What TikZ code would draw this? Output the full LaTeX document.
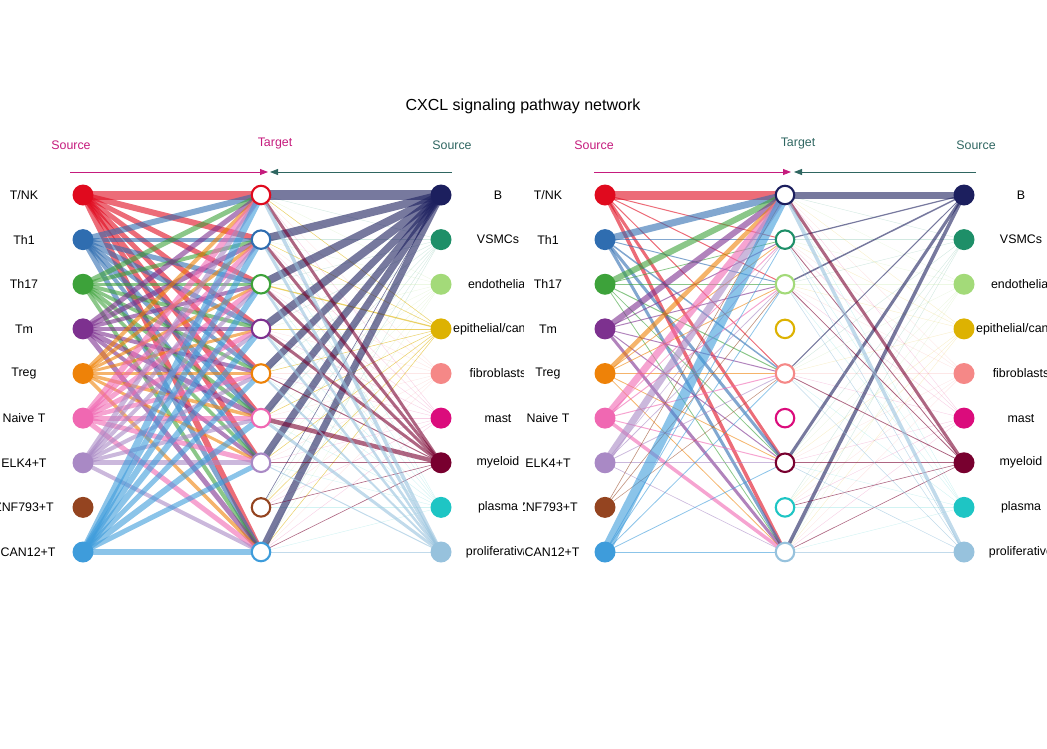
\documentclass[tikz,border=0pt]{standalone}
\usepackage{fontspec}
\setmainfont{Liberation Sans}
\usetikzlibrary{arrows.meta}
\definecolor{c1}{HTML}{E00A1E}
\definecolor{c2}{HTML}{2F6DB0}
\definecolor{c3}{HTML}{3DA23A}
\definecolor{c4}{HTML}{7D318F}
\definecolor{c5}{HTML}{EE8208}
\definecolor{c6}{HTML}{F068B2}
\definecolor{c7}{HTML}{A989C5}
\definecolor{c8}{HTML}{944420}
\definecolor{c9}{HTML}{3E9CDB}
\definecolor{c10}{HTML}{1C1F5E}
\definecolor{c11}{HTML}{1E8F68}
\definecolor{c12}{HTML}{A3DA79}
\definecolor{c13}{HTML}{DDB202}
\definecolor{c14}{HTML}{F58887}
\definecolor{c15}{HTML}{DB0C7C}
\definecolor{c16}{HTML}{78002F}
\definecolor{c17}{HTML}{1EC5C4}
\definecolor{c18}{HTML}{97C2DD}
\definecolor{srcmag}{HTML}{C51B7D}
\definecolor{srcgrn}{HTML}{2F6661}
\pgfdeclarelayer{edges}
\pgfsetlayers{edges,main}
\begin{document}
\begin{tikzpicture}[x=1pt,y=-1pt,line cap=butt,
  src/.style={circle,fill=#1,minimum size=21pt,inner sep=0pt},
  tgt/.style={circle,draw=#1,fill=white,line width=2.1pt,minimum size=18.5pt,inner sep=0pt},
  lbl/.style={font=\fontsize{12.4}{14}\selectfont,inner sep=0pt},
  hdr/.style={font=\fontsize{12.4}{14}\selectfont,inner sep=0pt},
  edge/.style={draw opacity=0.6},
  faint/.style={draw opacity=0.2,line width=0.4pt},
  hdrarrow/.style={-{Triangle[length=8pt,width=6pt]},line width=0.8pt}]
\useasboundingbox (0,0) rectangle (1047,748);
\node[font=\fontsize{16}{18}\selectfont,inner sep=0pt] (title) at (523,106) {CXCL signaling pathway network};
% header
\node[hdr,text=srcmag] (hsl) at (71,145) {Source};
\node[hdr,text=srcmag] (htl) at (275,143.5) {Target};
\node[hdr,text=srcgrn] (hrl) at (452,145) {Source};
\node[hdr,text=srcmag] (hsr) at (594,145) {Source};
\node[hdr,text=srcgrn] (htr) at (798,143.5) {Target};
\node[hdr,text=srcgrn] (hrr) at (976,145) {Source};
\coordinate (al1) at (70,172); \coordinate (al2) at (268,172);
\coordinate (al3) at (452,172); \coordinate (al4) at (270,172);
\coordinate (ar1) at (594,172); \coordinate (ar2) at (791,172);
\coordinate (ar3) at (976,172); \coordinate (ar4) at (794,172);
\draw[hdrarrow,srcmag] (al1) -- (al2);
\draw[hdrarrow,srcgrn] (al3) -- (al4);
\draw[hdrarrow,srcmag] (ar1) -- (ar2);
\draw[hdrarrow,srcgrn] (ar3) -- (ar4);
% nodes
\foreach \i in {1,...,9} {
  \pgfmathsetmacro\y{195+44.625*(\i-1)}
  \pgfmathtruncatemacro\k{\i+9}
  \node[src=c\i] (LS\i) at (83,\y) {};
  \node[tgt=c\i] (LT\i) at (261,\y) {};
  \node[src=c\k] (LR\k) at (441,\y) {};
  \node[src=c\i] (RS\i) at (605,\y) {};
  \node[tgt=c\k] (RT\k) at (785,\y) {};
  \node[src=c\k] (RR\k) at (964,\y) {};
}
% labels
\begin{scope}
\clip (0,0) rectangle (523.5,748);
\foreach \i/\t in {1/{T/NK},2/Th1,3/Th17,4/Tm,5/Treg,6/Naive T,7/ELK4+T,8/ZNF793+T,9/SCAN12+T}
  \node[lbl] (lbLS\i) at (24,{195+44.625*(\i-1)}) {\t};
\foreach \i/\t in {10/B,11/VSMCs,12/endothelial,13/{epithelial/cancer},14/fibroblasts,15/mast,16/myeloid,17/plasma,18/proliferative}
  \node[lbl] (lbLR\i) at (498,{195+44.625*(\i-10)}) {\t};
\end{scope}
\begin{scope}
\clip (523.5,0) rectangle (1047,748);
\foreach \i/\t in {1/{T/NK},2/Th1,3/Th17,4/Tm,5/Treg,6/Naive T,7/ELK4+T,8/ZNF793+T,9/SCAN12+T}
  \node[lbl] (lbRS\i) at (548,{195+44.625*(\i-1)}) {\t};
\foreach \i/\t in {10/B,11/VSMCs,12/endothelial,13/{epithelial/cancer},14/fibroblasts,15/mast,16/myeloid,17/plasma,18/proliferative}
  \node[lbl] (lbRR\i) at (1021,{195+44.625*(\i-10)}) {\t};
\end{scope}
% edges
\begin{pgfonlayer}{edges}
\foreach \s in {11,12,14,15,17}
  \foreach \t in {1,...,9}
    \draw[faint,c\s] (LR\s.center) -- (LT\t.center);
\foreach \s/\t/\w in {13/1/0.5,13/2/0.5,13/3/1.2,13/4/0.5,13/5/0.5,13/6/0.5,13/7/0.5,13/8/0.5,13/9/0.5}
  \draw[edge,c\s,line width=\w] (LR\s.center) -- (LT\t.center);
\foreach \s/\t/\w in {1/1/9,1/2/6,1/3/5,1/4/5,1/5/5,1/6/6,1/7/5,1/9/6,
  2/1/6,2/2/4,2/3/5,2/4/5,2/5/4,2/6/5,2/7/4,2/9/5,
  3/1/5,3/2/4,3/3/3,3/4/4,3/5/3.5,3/6/4,3/7/3.5,3/9/4,
  4/1/5,4/2/5,4/3/4,4/4/4,4/5/4,4/6/5,4/7/4,4/9/5,
  5/1/4,5/2/3.5,5/3/3,5/4/3,5/5/3,5/6/3.5,5/7/3,5/9/3.5,
  6/1/6,6/2/5,6/3/5,6/4/5,6/5/4.5,6/6/5,6/7/5,6/9/5,
  7/1/5,7/2/4,7/3/4,7/4/4,7/5/4,7/6/4,7/7/5,7/9/4,
  9/1/7,9/2/6,9/3/6,9/4/6,9/5/5,9/6/6,9/7/5,9/9/6}
  \draw[edge,c\s,line width=\w] (LS\s.center) -- (LT\t.center);
\foreach \s/\t/\w in {10/1/10,10/2/8,10/3/8,10/4/8,10/5/7,10/6/7,10/7/7,10/8/0.6,10/9/7,
  16/1/3,16/2/3,16/3/3,16/4/3,16/5/1,16/6/4.5,16/7/0.8,16/8/0.6,16/9/0.6,
  18/1/3.5,18/2/3,18/3/2.5,18/4/2.5,18/5/2,18/6/3,18/7/1,18/9/1}
  \draw[edge,c\s,line width=\w] (LR\s.center) -- (LT\t.center);
\foreach \s in {11,12,13,14,15,17}
  \foreach \t in {10,11,12,14,16,17,18}
    \draw[faint,c\s] (RR\s.center) -- (RT\t.center);
\foreach \s/\t/\w in {1/10/9,1/11/1,1/12/1,1/14/1,1/16/3,1/18/3.5,
  2/10/7,2/11/1,2/12/1,2/14/1.5,2/16/3,2/18/3,
  3/10/6,3/11/0.8,3/12/1,3/14/1,3/16/0.8,3/18/0.8,
  4/10/6,4/11/1,4/12/1,4/14/1,4/16/1,4/18/3,
  5/10/4.5,5/11/0.8,5/12/0.8,5/14/1.5,5/16/0.8,5/18/0.8,
  6/10/7,6/11/0.8,6/12/1,6/14/1,6/16/1,6/18/3.5,
  7/10/7,7/11/0.6,7/12/0.8,7/14/0.8,7/16/0.6,7/18/0.6,
  8/10/0.6,8/12/0.6,8/14/0.5,
  9/10/10,9/11/0.8,9/12/0.8,9/14/0.8,9/16/0.8,9/18/0.8}
  \draw[edge,c\s,line width=\w] (RS\s.center) -- (RT\t.center);
\foreach \s/\t/\w in {10/10/7,10/11/1.2,10/12/1.5,10/14/1,10/16/3,10/18/3.5,
  16/10/3,16/11/0.8,16/12/0.8,16/14/0.8,16/16/0.6,16/17/0.6,16/18/0.6,
  18/10/3.5,18/11/0.5,18/12/0.5,18/14/0.5,18/16/0.5,18/18/0.5}
  \draw[edge,c\s,line width=\w] (RR\s.center) -- (RT\t.center);
\end{pgfonlayer}
\end{tikzpicture}
\end{document}
